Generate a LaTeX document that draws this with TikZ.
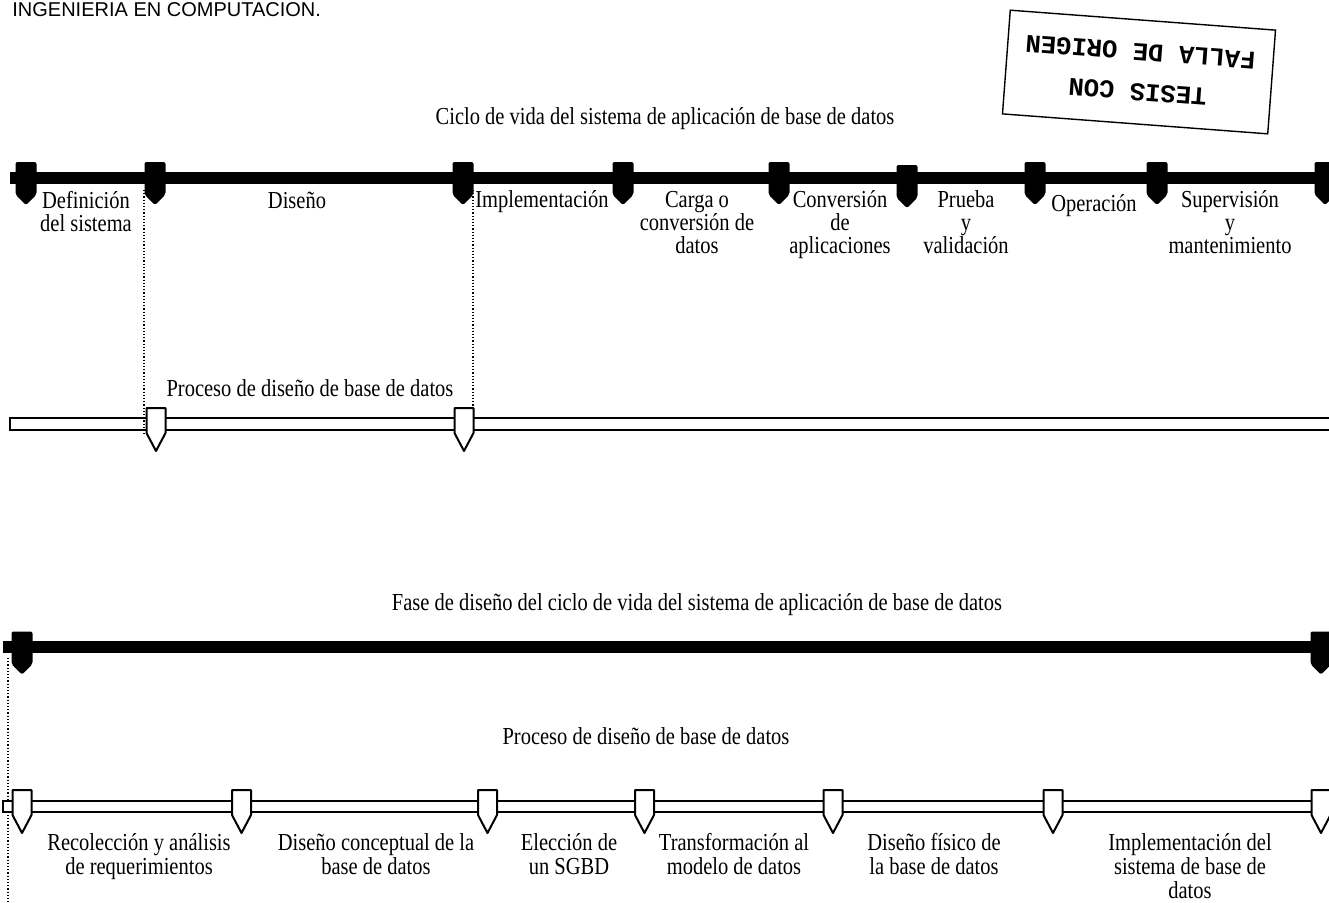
\documentclass[tikz,border=0pt]{standalone}
\usepackage{fontspec}
\setmainfont{Liberation Serif}[FakeStretch=0.84]
\newfontfamily\hdrfont{Liberation Sans}
\newfontfamily\stampfont{Liberation Mono}
\begin{document}
\begin{tikzpicture}[x=0.5pt,y=-0.5pt,
  lbl/.style={font=\fontsize{12.2}{11.5}\selectfont, align=center, anchor=base, inner sep=0pt},
  lbll/.style={font=\fontsize{12.2}{12}\selectfont, align=center, anchor=base, inner sep=0pt},
  blackbar/.style={line width=6pt, line cap=butt},
  hollowbar/.style={draw, fill=white, line width=1pt},
  dotline/.style={densely dotted, line width=0.6pt},
  bmark/.pic={\fill[rounded corners=1pt] (-10.5,-15.5) -- (10.5,-15.5) -- (10.5,17) -- (0,27.5) -- (-10.5,17) -- cycle;},
  wmark/.pic={\filldraw[fill=white, line width=1pt, line join=round] (-9.5,-16) -- (9.5,-16) -- (9.5,9) -- (0,27) -- (-9.5,9) -- cycle;}
]
\useasboundingbox (0,0) rectangle (1329,902);
\clip (0,0) rectangle (1329,902);

% header
\node[anchor=base west, inner sep=0pt, font=\hdrfont\fontsize{10}{12}\selectfont] (hdr) at (12,16) {INGENIERIA EN COMPUTACION.};

% stamp
\node[draw, line width=0.7pt, rotate=175.7, minimum width=133pt, minimum height=52pt,
      align=center, font=\stampfont\bfseries\fontsize{12.8}{20}\selectfont] (stamp) at (1139,72) {TESIS CON\\FALLA DE ORIGEN};

% ---------- upper timeline ----------
\node[lbl] (t1) at (665,124) {Ciclo de vida del sistema de aplicación de base de datos};
\coordinate (ta) at (10,177.5);
\coordinate (tb) at (1340,177.5);
\draw[blackbar] (ta) -- (tb);
\foreach \x/\dy in {26/0,155/0,463/0,623/0,779/0,907/3,1035/0,1157/0,1325/0}
  \pic at (\x,177.5+\dy) {bmark};

% (base anchor = baseline of the last line)
\node[lbl] (def) at (86,231) {Definición\\del sistema};
\node[lbl] (dis) at (297,208) {Diseño};
\node[lbl] (imp) at (542,207) {Implementación};
\node[lbl] (car) at (697,253) {Carga o\\conversión de\\datos};
\node[lbl] (con) at (840,253) {Conversión\\de\\aplicaciones};
\node[lbl] (pru) at (966,253) {Prueba\\y\\validación};
\node[lbl] (ope) at (1094,211) {Operación};
\node[lbl] (sup) at (1230,253) {Supervisión\\y\\mantenimiento};

% process bar 1
\node[lbl] (p1) at (310,396) {Proceso de diseño de base de datos};
\draw[hollowbar] (10,418) rectangle (1345,430);
\coordinate (d1a) at (144,190);
\coordinate (d1b) at (144,436);
\coordinate (d2a) at (473,190);
\coordinate (d2b) at (473,408);
\draw[dotline] (d1a) -- (d1b);
\draw[dotline] (d2a) -- (d2b);
\pic at (156,424) {wmark};
\pic at (464,424) {wmark};

% ---------- lower timeline ----------
\node[lbl] (t2) at (697,610) {Fase de diseño del ciclo de vida del sistema de aplicación de base de datos};
\coordinate (la) at (3,647);
\coordinate (lb) at (1340,647);
\draw[blackbar] (la) -- (lb);
\pic at (22,647) {bmark};
\pic at (1321,647) {bmark};
\coordinate (d3a) at (8,658);
\coordinate (d3b) at (8,905);
\draw[dotline] (d3a) -- (d3b);

\node[lbl] (p2) at (646,744) {Proceso de diseño de base de datos};
\draw[hollowbar] (3,800.5) rectangle (1345,811.5);
\foreach \x in {22,241.5,487.5,644.5,833,1053,1321}
  \pic at (\x,806) {wmark};

\node[lbll] (rec) at (139,874) {Recolección y análisis\\de requerimientos};
\node[lbll] (dco) at (376,874) {Diseño conceptual de la\\base de datos};
\node[lbll] (ele) at (569,874) {Elección de\\un SGBD};
\node[lbll] (tra) at (734,874) {Transformación al\\modelo de datos};
\node[lbll] (dfi) at (934,874) {Diseño físico de\\la base de datos};
\node[lbll] (ims) at (1190,898) {Implementación del\\sistema de base de\\datos};
\end{tikzpicture}
\end{document}
